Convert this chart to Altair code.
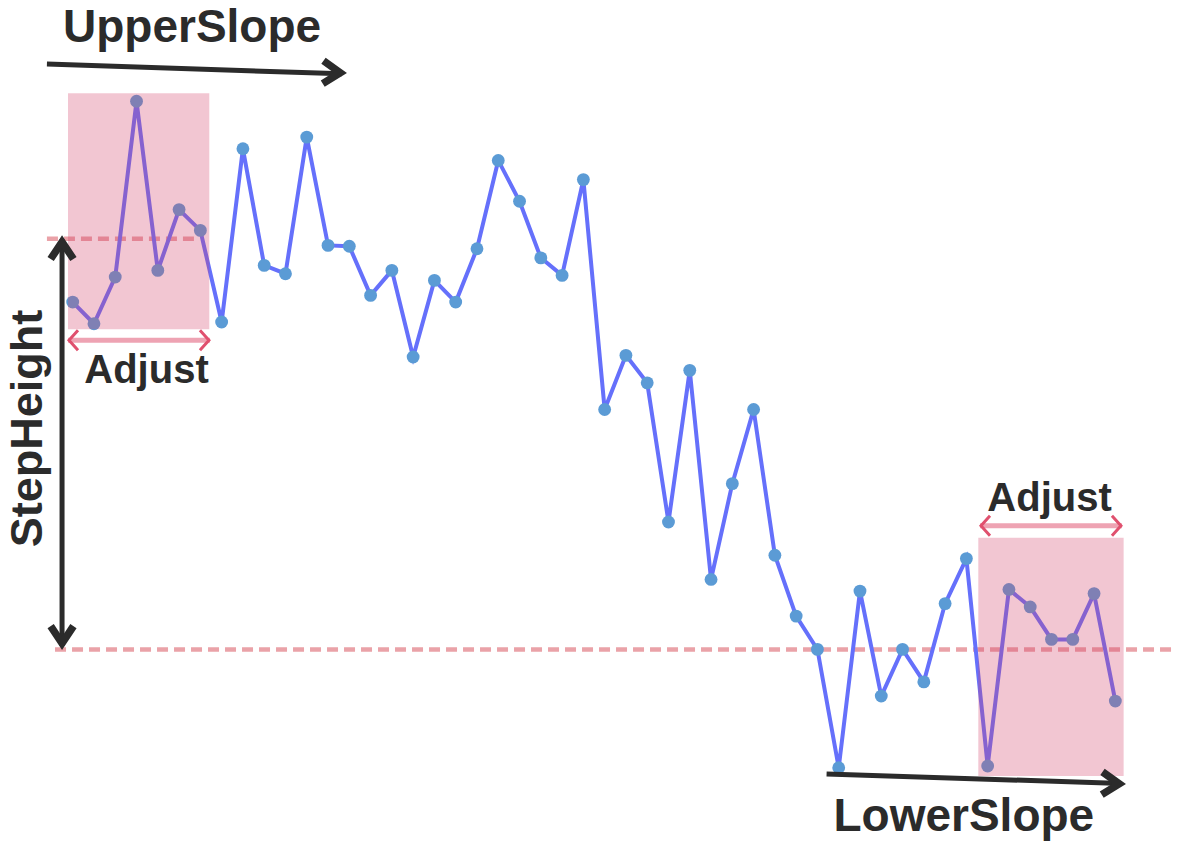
import altair as alt
import pandas as pd

# ---- data (x = sample index, y = signal level, 0..100 scale) ----
sample_idx = list(range(1, 51))
signal = [64.7, 62.1, 67.7, 88.8, 68.5, 75.8, 73.3, 62.3, 83.1, 69.1,
          68.1, 84.5, 71.5, 71.4, 65.5, 68.5, 58.1, 67.3, 64.7, 71.1,
          81.7, 76.8, 70.0, 67.9, 79.4, 51.8, 58.3, 55.0, 38.3, 56.5,
          31.4, 42.9, 51.8, 34.3, 27.0, 23.0, 8.8, 30.0, 17.4, 23.0,
          19.1, 28.5, 33.9, 9.0, 30.2, 28.1, 24.2, 24.2, 29.7, 16.8]

# adjust windows (shaded)
win_x0 = [0.78, 43.56]
win_x1 = [7.42, 50.39]
win_y0 = [61.43, 7.80]
win_y1 = [89.76, 36.41]

# reference levels (dashed)
lvl_x0 = [-0.21, 0.17]
lvl_x1 = [6.98, 53.09]
lvl_y = [72.3, 23.0]

# adjust span arrows
adj_x0 = [0.78, 43.64]
adj_x1 = [7.45, 50.31]
adj_y = [60.1, 37.85]

# black annotation arrows (shafts)
arr_x0 = [-0.21, 36.43, 0.5]
arr_x1 = [13.65, 50.30, 0.5]
arr_y0 = [93.28, 8.04, 72.2]
arr_y1 = [92.10, 6.90, 23.4]

# black arrow heads
head_x = [0.5, 0.5, 13.84, 50.45]
head_y = [72.6, 23.05, 92.2, 6.84]
head_angle = [0, 180, 91.9, 91.9]

# pink arrow heads
phead_x = [0.78, 7.45, 43.64, 50.31]
phead_y = [60.1, 60.1, 37.85, 37.85]
phead_angle = [270, 90, 270, 90]

# labels
lab_text = ["UpperSlope", "Adjust", "Adjust", "LowerSlope", "StepHeight"]
lab_x = [6.61, 4.47, 46.91, 42.88, -0.44]
lab_y = [95.92, 54.98, 39.62, 1.24, 49.52]
lab_size = [46, 40, 40, 46, 45]
lab_angle = [0, 0, 0, 0, 270]

xs = alt.Scale(domain=[-2.04, 52.71], nice=False, zero=False)
ys = alt.Scale(domain=[0, 100], nice=False, zero=False)

series = pd.DataFrame({"x": sample_idx, "y": signal})
wins = pd.DataFrame({"x": win_x0, "x2": win_x1, "y": win_y0, "y2": win_y1})
lvls = pd.DataFrame({"x": lvl_x0, "x2": lvl_x1, "y": lvl_y})
adjs = pd.DataFrame({"x": adj_x0, "x2": adj_x1, "y": adj_y})
arrs = pd.DataFrame({"x": arr_x0, "x2": arr_x1, "y": arr_y0, "y2": arr_y1})
heads = pd.DataFrame({"x": head_x, "y": head_y, "a": head_angle})
pheads = pd.DataFrame({"x": phead_x, "y": phead_y, "a": phead_angle})
labs = pd.DataFrame({"t": lab_text, "x": lab_x, "y": lab_y, "s": lab_size, "a": lab_angle})

X = lambda f="x": alt.X(f + ":Q", scale=xs, axis=None)
Y = lambda f="y": alt.Y(f + ":Q", scale=ys, axis=None)

dashed = alt.Chart(lvls).mark_rule(color="#eaa2a8", strokeWidth=4.5, strokeDash=[11, 6]).encode(
    x=X(), x2="x2:Q", y=Y())

line = alt.Chart(series).mark_line(color="#6570fb", strokeWidth=4).encode(x=X(), y=Y())
pts = alt.Chart(series).mark_circle(color="#5b9bd5", opacity=1, size=165).encode(x=X(), y=Y())

rects = alt.Chart(wins).mark_rect(color="#d4416a", opacity=0.3).encode(
    x=X(), x2="x2:Q", y=Y(), y2="y2:Q")

adj_lines = alt.Chart(adjs).mark_rule(color="#eea3b3", strokeWidth=5).encode(
    x=X(), x2="x2:Q", y=Y())

adj_heads = alt.Chart(pheads).mark_point(
    shape="M-1,1L0,0.1L1,1", filled=False, color="#e0506e", strokeWidth=3,
    size=400, opacity=1, strokeJoin="miter", strokeCap="butt").encode(
    x=X(), y=Y(), angle=alt.Angle("a:Q", scale=None))

shafts = alt.Chart(arrs).mark_rule(color="#2b2b2b", strokeWidth=5).encode(
    x=X(), x2="x2:Q", y=Y(), y2="y2:Q")

black_heads = alt.Chart(heads).mark_point(
    shape="M-0.6,1.2L0,0.3L0.6,1.2", filled=False, color="#2b2b2b", strokeWidth=7.5,
    size=1444, opacity=1, strokeJoin="miter", strokeCap="butt").encode(
    x=X(), y=Y(), angle=alt.Angle("a:Q", scale=None))

labels = alt.Chart(labs).mark_text(
    font="Liberation Sans", fontWeight="bold", color="#2b2b2b",
    align="center", baseline="alphabetic").encode(
    x=X(), y=Y(), text="t:N",
    size=alt.Size("s:Q", scale=None),
    angle=alt.Angle("a:Q", scale=None))

chart = alt.layer(dashed, line, pts, rects, adj_lines, adj_heads, shafts, black_heads, labels).properties(
    width=1165, height=833, padding=0,
    autosize=alt.AutoSizeParams(type="none"),
    background="white",
).configure_view(stroke=None)

chart.save("out.html", embed_options={"renderer": "svg", "actions": False})
